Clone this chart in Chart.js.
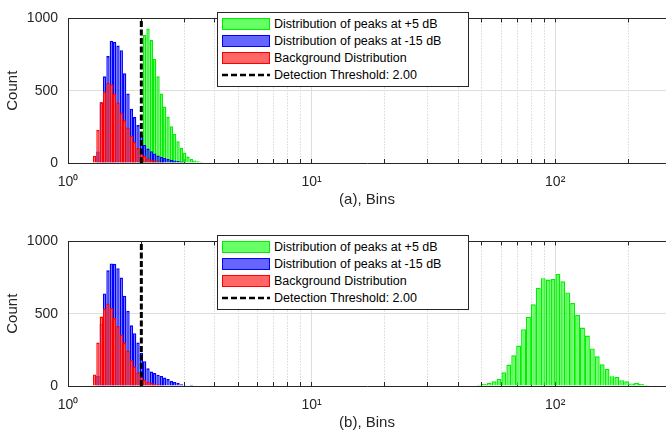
<!DOCTYPE html>
<html>
<head>
<meta charset="utf-8">
<title>Peak distributions</title>
<script src="https://cdn.jsdelivr.net/npm/chart.js@4.4.1/dist/chart.umd.min.js"></script>
<style>
    html, body { margin: 0; padding: 0; background: #fff; }
    body {
        width: 666px;
        height: 432px;
        position: relative;
        overflow: hidden;
        font-family: "Liberation Sans", Arial, sans-serif;
    }
    .panel { position: absolute; left: 0; width: 666px; height: 209px; }
    .panel canvas { display: block; }
    .legend {
        position: absolute;
        left: 217px;
        top: 12px;
        width: 252px;
        height: 75px;
        box-sizing: border-box;
        padding: 3px 0 0 4px;
        background: #fff;
        border: 1px solid #262626;
        font-size: 12.5px;
        color: #000;
    }
    .legend-row { display: flex; align-items: center; height: 16.8px; white-space: nowrap; }
    .legend-swatch { width: 48px; height: 12px; box-sizing: border-box; margin-right: 4px; flex: none; }
    .legend-line { width: 48px; height: 12px; margin-right: 4px; flex: none; }
</style>
</head>
<body>
<div class="panel" id="panel-a" style="top:0">
    <canvas id="chart-a" width="666" height="209"></canvas>
    <div class="legend" id="legend-a"></div>
</div>
<div class="panel" id="panel-b" style="top:223px">
    <canvas id="chart-b" width="666" height="209"></canvas>
    <div class="legend" id="legend-b"></div>
</div>

<script>
// Axis range and ticks (log x axis)
const xMin = 1;
const xMax = 285;
const majorTicks = [1, 10, 100];
const minorTicks = [2, 3, 4, 5, 6, 7, 8, 9, 20, 30, 40, 50, 60, 70, 80, 90, 200];
const countTicks = [0, 500, 1000];

const threshold = 2.0;

// Fine log-spaced bin centres used by the low-value histograms
const fineBins = [1.286, 1.327, 1.370, 1.414, 1.459, 1.506, 1.554, 1.604, 1.655, 1.708,
    1.763, 1.820, 1.878, 1.938, 2.000, 2.064, 2.130, 2.199, 2.269, 2.342,
    2.417, 2.495, 2.574, 2.657, 2.742, 2.830, 2.920, 3.014, 3.110, 3.210,
    3.313, 3.420, 3.529, 3.643, 3.759];

// Coarse log-spaced bin centres for the +5 dB peaks in panel (b)
const coarseBins = [48.82, 51.14, 53.57, 56.12, 58.78, 61.58, 64.50, 67.57, 70.78, 74.14,
    77.67, 81.36, 85.22, 89.27, 93.52, 97.96, 102.61, 107.49, 112.60, 117.95,
    123.55, 129.42, 135.57, 142.01, 148.76, 155.83, 163.24, 170.99, 179.12, 187.63,
    196.55, 205.89, 215.67, 225.92, 236.65, 247.90, 259.68];

// Panel (a) counts
const greenCountsA = [0, 0, 0, 0, 0, 0, 0, 0, 0, 0, 0, 0, 0, 0, 0,
    885, 930, 850, 720, 600, 480, 390, 320, 255, 200, 150, 105, 72, 45, 28, 18, 12, 7, 4, 2];
const blueCountsA = [0, 80, 420, 600, 740, 845, 838, 812, 780, 620, 480, 375, 318, 262, 195,
    125, 100, 82, 66, 52, 42, 35, 28, 22, 18, 14, 10, 6, 4, 2];
const redCountsA = [50, 230, 420, 495, 555, 545, 478, 418, 345, 295, 245, 190, 145, 105, 72,
    48, 33, 24, 17, 12, 8, 5, 3, 2];

// Panel (b) counts
const greenCountsB = [8, 13, 22, 33, 50, 95, 148, 212, 280, 393, 478, 565, 680, 746, 736,
    740, 775, 724, 647, 574, 492, 404, 349, 260, 205, 150, 117, 68, 62, 40, 33, 18, 22, 13, 7, 4, 6];
const blueCountsB = [0, 70, 430, 640, 800, 848, 845, 815, 750, 625, 520, 420, 365, 300, 230,
    172, 122, 100, 90, 78, 70, 58, 48, 35, 28, 22, 12, 5, 0, 8];
const redCountsB = [80, 300, 480, 535, 570, 540, 470, 415, 355, 300, 245, 180, 135, 95, 65,
    42, 30, 22, 16, 12, 8, 5, 3, 2];

const labels = {
    green: 'Distribution of peaks at +5 dB',
    blue: 'Distribution of peaks at -15 dB',
    red: 'Background Distribution',
    threshold: 'Detection Threshold: ' + threshold.toFixed(2)
};

const axisColor = '#262626';
const superscripts = { 1: '\u2070', 10: '\u00b9', 100: '\u00b2' };

Chart.defaults.font.family = '"Liberation Sans", Arial, sans-serif';
Chart.defaults.color = axisColor;

// All histograms share one stack on the x axis so the bars overlap
// instead of being placed side by side
function histogram(label, bins, counts, stroke, fill, order) {
    return {
        type: 'bar',
        label: label,
        data: counts.map((c, i) => ({ x: bins[i], y: c })),
        backgroundColor: fill,
        borderColor: stroke,
        borderWidth: 1.4,
        borderSkipped: 'start',
        barThickness: 'flex',
        barPercentage: 1,
        categoryPercentage: 1,
        stack: 'hist',
        inflateAmount: 0,
        order: order
    };
}

function thresholdLine() {
    return {
        type: 'line',
        label: labels.threshold,
        data: [{ x: threshold, y: countTicks[0] }, { x: threshold, y: countTicks[countTicks.length - 1] }],
        borderColor: '#000',
        borderWidth: 3,
        borderDash: [6, 2.5],
        pointRadius: 0,
        fill: false,
        order: 1
    };
}

function setLogTicks(scale) {
    scale.ticks = majorTicks.concat(minorTicks)
        .sort((a, b) => a - b)
        .map(v => ({ value: v }));
}

function isMajor(ctx) {
    return ctx.tick && majorTicks.includes(ctx.tick.value);
}

function makeChart(canvasId, title, datasets) {
    return new Chart(document.getElementById(canvasId), {
        type: 'bar',
        data: { datasets: datasets },
        options: {
            responsive: false,
            animation: false,
            devicePixelRatio: 1,
            layout: { padding: { top: 12, right: 0, bottom: 0, left: 0 } },
            plugins: {
                legend: { display: false },
                tooltip: { enabled: false }
            },
            scales: {
                x: {
                    type: 'logarithmic',
                    position: 'bottom',
                    min: xMin,
                    max: xMax,
                    offset: false,
                    stacked: true,
                    afterBuildTicks: setLogTicks,
                    afterFit: scale => { scale.height = 46; },
                    ticks: {
                        autoSkip: false,
                        maxRotation: 0,
                        padding: 15,
                        color: axisColor,
                        font: { size: 14 },
                        callback: v => majorTicks.includes(v) ? '10' + superscripts[v] : ''
                    },
                    grid: {
                        offset: false,
                        color: ctx => isMajor(ctx) ? '#dedede' : '#c4c4c4',
                        lineWidth: 1,
                        drawTicks: true,
                        tickLength: -4,
                        tickColor: axisColor
                    },
                    border: {
                        color: axisColor,
                        width: 1,
                        dash: ctx => (ctx.tick && !isMajor(ctx)) ? [1, 2] : []
                    },
                    title: {
                        display: true,
                        text: title,
                        color: axisColor,
                        font: { size: 15 },
                        padding: { top: 0, bottom: 0 }
                    }
                },
                xTop: {
                    type: 'logarithmic',
                    position: 'top',
                    min: xMin,
                    max: xMax,
                    offset: false,
                    afterBuildTicks: setLogTicks,
                    afterFit: scale => { scale.height = 0; },
                    ticks: { display: false },
                    grid: {
                        offset: false,
                        drawOnChartArea: false,
                        drawTicks: true,
                        tickLength: -4,
                        tickColor: axisColor
                    },
                    border: { color: axisColor, width: 1 }
                },
                y: {
                    min: countTicks[0],
                    max: countTicks[countTicks.length - 1],
                    stacked: false,
                    afterBuildTicks: scale => { scale.ticks = countTicks.map(v => ({ value: v })); },
                    afterFit: scale => { scale.width = 68; },
                    ticks: {
                        padding: 10,
                        color: axisColor,
                        font: { size: 14 },
                        callback: v => String(v)
                    },
                    grid: { color: '#dedede', drawTicks: false },
                    border: { color: axisColor, width: 1 },
                    title: {
                        display: true,
                        text: 'Count',
                        color: axisColor,
                        font: { size: 15 },
                        padding: { top: 4, bottom: 0 }
                    }
                }
            }
        }
    });
}

// HTML legend drawn over the plot area
function buildLegend(legendId, chart) {
    const legend = document.getElementById(legendId);
    legend.innerHTML = '';
    chart.data.datasets.forEach(ds => {
        const row = document.createElement('div');
        row.className = 'legend-row';
        if (ds.type === 'line') {
            row.innerHTML = `<svg class="legend-line" viewBox="0 0 48 12">
                <line x1="0" y1="6" x2="48" y2="6" stroke="#000" stroke-width="2.5" stroke-dasharray="6 3"/>
            </svg>`;
        } else {
            const swatch = document.createElement('span');
            swatch.className = 'legend-swatch';
            swatch.style.background = ds.backgroundColor;
            swatch.style.border = '1px solid ' + ds.borderColor;
            row.appendChild(swatch);
        }
        const text = document.createElement('span');
        text.textContent = ds.label;
        row.appendChild(text);
        legend.appendChild(row);
    });
}

document.addEventListener('DOMContentLoaded', function() {
    const chartA = makeChart('chart-a', '(a), Bins', [
        histogram(labels.green, fineBins, greenCountsA, '#00ee00', '#66ff66', 4),
        histogram(labels.blue, fineBins, blueCountsA, '#0000ff', '#6666ff', 3),
        histogram(labels.red, fineBins, redCountsA, '#ff0000', '#ff6666', 2),
        thresholdLine()
    ]);
    buildLegend('legend-a', chartA);

    const chartB = makeChart('chart-b', '(b), Bins', [
        histogram(labels.green, coarseBins, greenCountsB, '#00ee00', '#66ff66', 4),
        histogram(labels.blue, fineBins, blueCountsB, '#0000ff', '#6666ff', 3),
        histogram(labels.red, fineBins, redCountsB, '#ff0000', '#ff6666', 2),
        thresholdLine()
    ]);
    buildLegend('legend-b', chartB);
});
</script>
</body>
</html>
